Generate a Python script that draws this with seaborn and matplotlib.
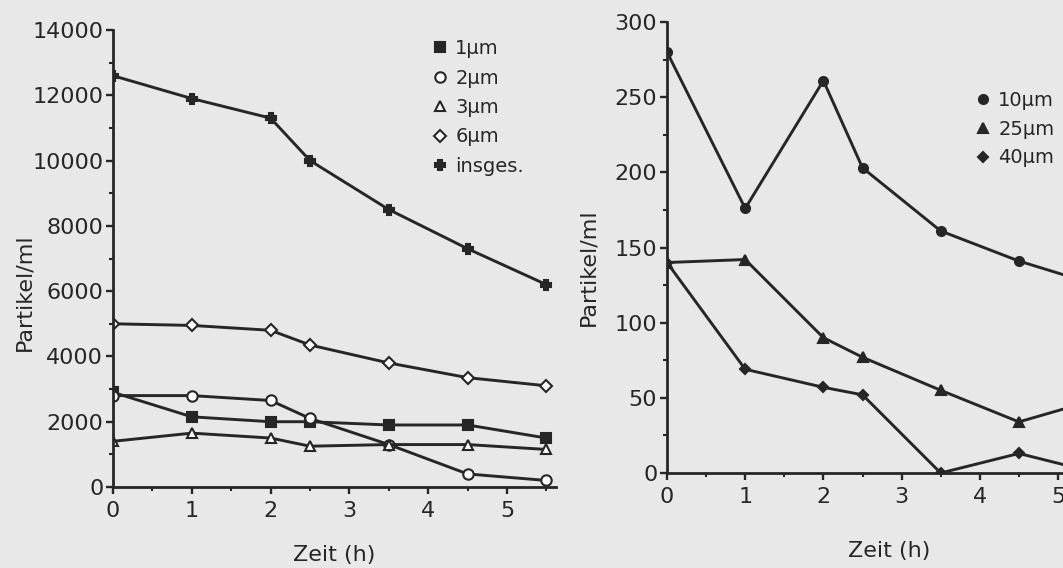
import matplotlib
matplotlib.use("Agg")
import matplotlib.pyplot as plt
from matplotlib.lines import Line2D
from matplotlib.ticker import MultipleLocator
import seaborn as sns

# Sampling times (h)
zeit = [0, 1, 2, 2.5, 3.5, 4.5, 5.5]

# Particle counts (Partikel/ml) per size class, small fractions
p1um = [2900, 2150, 2000, 2000, 1900, 1900, 1500]
p2um = [2800, 2800, 2650, 2100, 1300, 400, 200]
p3um = [1400, 1650, 1500, 1250, 1300, 1300, 1150]
p6um = [5000, 4950, 4800, 4350, 3800, 3350, 3100]
insges = [12600, 11900, 11300, 10000, 8500, 7300, 6200]

# Large fractions
p10um = [280, 176, 261, 203, 161, 141, 125]
p25um = [140, 142, 90, 77, 55, 34, 49]
p40um = [140, 69, 57, 52, 0, 13, 0]

left_labels = ["1µm", "2µm", "3µm", "6µm", "insges."]
right_labels = ["10µm", "25µm", "40µm"]

ink = "#262626"
paper = "#e8e8e8"

sns.set_style("ticks")
plt.rcParams["font.family"] = ["DejaVu Sans"]
plt.rcParams["text.color"] = ink
plt.rcParams["axes.labelcolor"] = ink
plt.rcParams["xtick.color"] = ink
plt.rcParams["ytick.color"] = ink

W, H = 1063, 568
fig = plt.figure(figsize=(W / 100, H / 100), dpi=100, facecolor=paper)


def px_axes(x0, y_top, x_unit, xmax, y_bottom):
    """Axes whose x=0 sits at pixel x0 and y-range spans y_top..y_bottom."""
    width = x_unit * xmax
    return fig.add_axes([x0 / W, 1 - y_bottom / H, width / W, (y_bottom - y_top) / H])


ax1 = px_axes(113, 30, 78.8, 5.62, 487)
ax2 = px_axes(667, 22, 78.2, 5.62, 473)

left_series = [
    (p1um, "s", ink, 7.5),
    (p2um, "o", "white", 7.5),
    (p3um, "^", "white", 7.5),
    (p6um, "D", "white", 6.5),
    (insges, "P", ink, 7),
]
right_series = [
    (p10um, "o", ink, 6.5),
    (p25um, "^", ink, 6.5),
    (p40um, "D", ink, 5.5),
]

for ax, series in ((ax1, left_series), (ax2, right_series)):
    for vals, m, fc, ms in series:
        sns.lineplot(x=zeit, y=vals, ax=ax, color=ink, linewidth=2.1,
                     marker=m, markersize=ms, markerfacecolor=fc,
                     markeredgecolor=ink, markeredgewidth=1.5,
                     legend=False)

for ax in (ax1, ax2):
    ax.set_facecolor("none")
    sns.despine(ax=ax)
    for s in ("left", "bottom"):
        ax.spines[s].set_linewidth(2.0)
        ax.spines[s].set_color(ink)
    ax.set_xlim(0, 5.62)
    ax.xaxis.set_major_locator(MultipleLocator(1))
    ax.xaxis.set_minor_locator(MultipleLocator(0.5))
    ax.tick_params(axis="both", which="major", direction="out", length=5,
                   width=1.7, labelsize=16)
    ax.tick_params(axis="both", which="minor", direction="out", length=3,
                   width=1.5)
    ax.tick_params(axis="x", which="major", pad=5)
    ax.tick_params(axis="y", which="major", pad=2)
    ax.set_xlabel("Zeit (h)", fontsize=16)
    ax.set_ylabel("Partikel/ml", fontsize=16)

ax1.set_ylim(0, 14000)
ax1.yaxis.set_major_locator(MultipleLocator(2000))
ax1.yaxis.set_minor_locator(MultipleLocator(1000))
ax2.set_ylim(0, 300)
ax2.yaxis.set_major_locator(MultipleLocator(50))
ax2.yaxis.set_minor_locator(MultipleLocator(25))

ax1.xaxis.set_label_coords((333 - 113) / 441, -(545 - 487) / 457)
ax1.yaxis.set_label_coords(-(113 - 35) / 441, (487 - 292) / 457)
ax2.xaxis.set_label_coords((888 - 667) / 438, -(541 - 473) / 451)
ax2.yaxis.set_label_coords(-(667 - 599) / 438, (473 - 267) / 451)


def handles(series):
    return [Line2D([], [], linestyle="none", marker=m, markersize=ms,
                   markerfacecolor=fc, markeredgecolor=ink,
                   markeredgewidth=1.5) for _, m, fc, ms in series]


leg_kw = dict(loc="upper left", bbox_transform=fig.transFigure, frameon=False,
              borderpad=0, borderaxespad=0, handlelength=0.8,
              handletextpad=0.4, fontsize=14)
ax1.legend(handles(left_series), left_labels,
           bbox_to_anchor=(432 / W, 1 - 39 / H), labelspacing=0.54, **leg_kw)
ax2.legend(handles(right_series), right_labels,
           bbox_to_anchor=(975 / W, 1 - 91 / H), labelspacing=0.5, **leg_kw)

fig.savefig("out.png", dpi=100, facecolor=paper)
